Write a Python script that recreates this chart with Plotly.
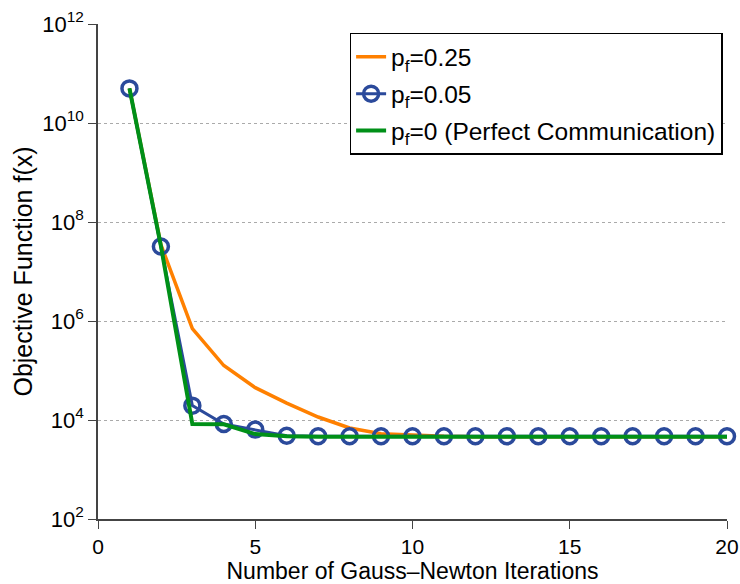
import plotly.graph_objects as go

iterations = list(range(1, 21))
pf_025 = [5.0e10, 3.5e7, 7.0e5, 1.26e5, 4.5e4, 2.2e4, 1.15e4, 6.9e3, 5.3e3, 4.9e3,
          4.7e3, 4.6e3, 4.6e3, 4.6e3, 4.6e3, 4.6e3, 4.6e3, 4.6e3, 4.6e3, 4.6e3]
pf_005 = [5.0e10, 3.2e7, 1.95e4, 8.3e3, 6.4e3, 4.8e3, 4.7e3, 4.7e3, 4.7e3, 4.7e3,
          4.7e3, 4.7e3, 4.7e3, 4.7e3, 4.7e3, 4.7e3, 4.7e3, 4.7e3, 4.7e3, 4.7e3]
pf_0 = [5.0e10, 3.3e7, 8.3e3, 8.2e3, 5.2e3, 4.7e3, 4.6e3, 4.6e3, 4.6e3, 4.6e3,
        4.6e3, 4.6e3, 4.6e3, 4.6e3, 4.6e3, 4.6e3, 4.6e3, 4.6e3, 4.6e3, 4.6e3]

ytick_vals = [1e2, 1e4, 1e6, 1e8, 1e10, 1e12]
ytick_text = ["10<sup>2</sup>", "10<sup>4</sup>", "10<sup>6</sup>", "10<sup>8</sup>",
              "10<sup>10</sup>", "10<sup>12</sup>"]
xtick_vals = [0, 5, 10, 15, 20]

fig = go.Figure()
fig.add_trace(go.Scatter(x=iterations, y=pf_025, mode="lines", name="p<sub>f</sub>=0.25",
                         legendgroup="a", line=dict(color="#ff8000", width=3.5)))
fig.add_trace(go.Scatter(x=iterations, y=pf_005, mode="lines+markers", name="p<sub>f</sub>=0.05",
                         legendgroup="b", line=dict(color="#2b4a9b", width=3),
                         marker=dict(symbol="circle-open", size=15, color="#2b4a9b",
                                     line=dict(width=3.5, color="#2b4a9b"))))
fig.add_trace(go.Scatter(x=iterations, y=pf_0, mode="lines", name="p<sub>f</sub>=0 (Perfect Communication)",
                         legendgroup="c", line=dict(color="#009018", width=4)))

fig.update_layout(
    width=740, height=584,
    margin=dict(l=98, r=13, t=24, b=65, autoexpand=False),
    paper_bgcolor="white", plot_bgcolor="white",
    font=dict(family="Liberation Sans, Arial, sans-serif", size=22, color="black"),
    showlegend=True,
    legend=dict(x=0.40, y=0.982, xanchor="left", yanchor="top",
                bordercolor="black", borderwidth=1.5, bgcolor="white",
                font=dict(size=24.5), tracegroupgap=2, itemwidth=30),
)
fig.update_xaxes(range=[0, 20], tickvals=xtick_vals, ticks="outside", ticklen=8,
                 showline=True, linecolor="#444", linewidth=1.5, showgrid=False,
                 zeroline=False, ticklabeloverflow="allow", automargin=False,
                 title=dict(text="Number of Gauss\u2013Newton Iterations", font=dict(size=23), standoff=0),
                 tickfont=dict(size=21))
fig.update_yaxes(type="log", range=[2, 12], tickvals=ytick_vals, ticktext=ytick_text,
                 ticks="outside", ticklen=8, showline=True, linecolor="#444", linewidth=1.5,
                 showgrid=True, gridcolor="#aaa", griddash="dot", gridwidth=1.2,
                 zeroline=False, automargin=False,
                 title=dict(text="Objective Function f(x)", font=dict(size=25), standoff=2),
                 tickfont=dict(size=22))
for tr in fig.data:
    tr.cliponaxis = False

fig.write_html("out.html")
